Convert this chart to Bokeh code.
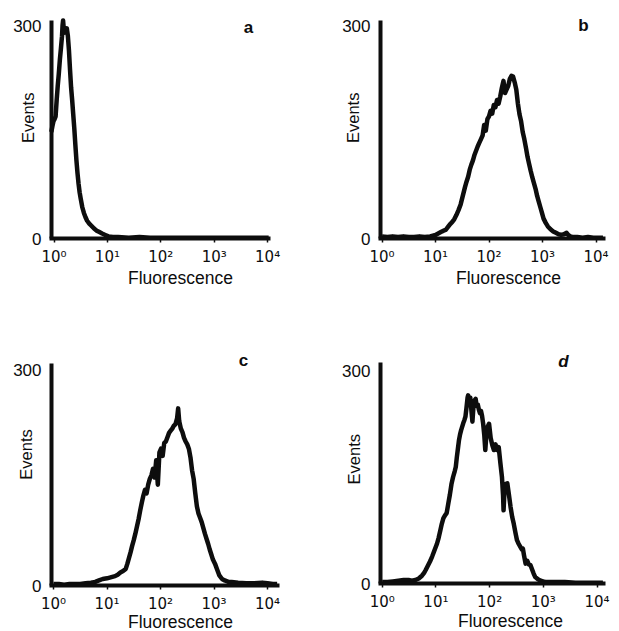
import math
from bokeh.plotting import figure
from bokeh.layouts import row, column
from bokeh.models import Range1d, FixedTicker, CustomJSTickFormatter, Label, ColumnDataSource
from bokeh.embed import file_html
from bokeh.resources import INLINE

FONT = "Liberation Sans"
TICK_FONT = "DejaVu Sans"
INK = "#0d0d0d"

# ---------------- data (log10 fluorescence channel, events) ----------------
x_tick_values = [1, 10, 100, 1000, 10000]
x_tick_labels = ["10⁰", "10¹", "10²", "10³", "10⁴"]
y_tick_values = [0, 300]
panel_letters = ["a", "b", "c", "d"]
x_axis_title = "Fluorescence"
y_axis_title = "Events"

decade_a = [-0.05, -0.03, -0.01, 0.01, 0.03, 0.05, 0.07, 0.09, 0.11, 0.13, 0.15, 0.16, 0.17,
            0.18, 0.20, 0.22, 0.24, 0.26, 0.28, 0.30, 0.32, 0.34, 0.36, 0.38, 0.40, 0.42, 0.44,
            0.46, 0.48, 0.50, 0.53, 0.56, 0.59, 0.62, 0.66, 0.70, 0.75, 0.80, 0.85, 0.90, 0.96,
            1.02, 1.10, 1.20, 1.40, 1.60, 1.80, 2.00, 2.20, 2.50, 2.80, 3.10, 3.40, 3.70, 4.02]
events_a = [150, 158, 165, 168, 172, 195, 215, 232, 252, 268, 285, 300, 307,
            298, 290, 294, 296, 285, 265, 238, 213, 195, 175, 155, 132, 110, 92,
            77, 65, 56, 44, 36, 30, 25, 21, 18, 14, 11, 9, 7, 5,
            3, 2, 2, 1, 2, 1, 1, 1, 1, 1, 1, 1, 1, 1]

decade_b = [0.00, 0.10, 0.20, 0.30, 0.40, 0.50, 0.60, 0.70, 0.80, 0.90, 0.95, 1.00, 1.05, 1.10,
            1.15, 1.19, 1.23, 1.27, 1.31, 1.35, 1.39, 1.43, 1.47, 1.51, 1.55, 1.58, 1.61, 1.64,
            1.67, 1.70, 1.73, 1.76, 1.79, 1.82, 1.85, 1.88, 1.91, 1.94, 1.97, 2.00, 2.03, 2.06,
            2.09, 2.12, 2.15, 2.18, 2.21, 2.24, 2.27, 2.30, 2.33, 2.36, 2.39, 2.42, 2.45, 2.48,
            2.51, 2.54, 2.57, 2.60, 2.63, 2.66, 2.69, 2.72, 2.75, 2.78, 2.81, 2.84, 2.87, 2.90,
            2.93, 2.96, 2.99, 3.02, 3.06, 3.10, 3.15, 3.20, 3.25, 3.30, 3.35, 3.40, 3.45, 3.48,
            3.52, 3.58, 3.65, 3.75, 3.85, 3.95, 4.05, 4.13]
events_b = [3, 2, 3, 2, 3, 2, 2, 3, 2, 3, 4, 5, 7, 9,
            11, 12, 16, 20, 23, 27, 33, 40, 48, 60, 72, 80, 87, 97,
            104, 110, 118, 124, 130, 135, 140, 145, 160, 152, 168, 172, 180, 176,
            188, 185, 195, 190, 200, 212, 222, 205, 210, 215, 225, 229, 228, 220,
            210, 190, 175, 165, 150, 140, 128, 115, 105, 95, 86, 78, 70, 60,
            52, 44, 36, 28, 22, 17, 13, 10, 8, 6, 5, 6, 8, 5,
            3, 2, 2, 1, 2, 1, 1, 1]

decade_c = [0.00, 0.10, 0.20, 0.30, 0.40, 0.50, 0.60, 0.70, 0.78, 0.85, 0.92, 1.00, 1.05, 1.10,
            1.15, 1.20, 1.25, 1.30, 1.35, 1.38, 1.41, 1.44, 1.47, 1.50, 1.53, 1.56, 1.59, 1.62,
            1.65, 1.68, 1.71, 1.74, 1.77, 1.80, 1.83, 1.86, 1.89, 1.92, 1.95, 1.98, 2.01, 2.04,
            2.07, 2.10, 2.13, 2.16, 2.19, 2.22, 2.25, 2.28, 2.31, 2.33, 2.35, 2.38, 2.41, 2.44,
            2.47, 2.50, 2.53, 2.56, 2.59, 2.62, 2.65, 2.68, 2.71, 2.74, 2.77, 2.80, 2.83, 2.86,
            2.89, 2.92, 2.95, 2.98, 3.02, 3.06, 3.10, 3.15, 3.20, 3.27, 3.33, 3.45, 3.60, 3.75,
            3.90, 4.00, 4.10, 4.18]
events_c = [2, 2, 1, 2, 2, 2, 3, 4, 5, 7, 9, 10, 11, 12,
            13, 15, 18, 20, 23, 30, 38, 46, 55, 63, 72, 82, 92, 104,
            115, 125, 133, 128, 140, 148, 153, 162, 150, 174, 140, 185, 190, 180,
            198, 200, 206, 212, 215, 218, 222, 224, 232, 246, 228, 218, 213, 205,
            200, 196, 190, 178, 160, 148, 128, 110, 100, 94, 88, 80, 72, 65,
            58, 50, 43, 36, 30, 22, 14, 9, 7, 5, 5, 4, 3, 3,
            4, 3, 2, 2]

decade_d = [0.00, 0.10, 0.20, 0.30, 0.40, 0.49, 0.55, 0.62, 0.68, 0.74, 0.78, 0.81, 0.85, 0.89,
            0.93, 0.96, 0.99, 1.02, 1.05, 1.08, 1.11, 1.14, 1.17, 1.20, 1.23, 1.26, 1.29, 1.32,
            1.35, 1.37, 1.39, 1.41, 1.43, 1.45, 1.47, 1.49, 1.51, 1.53, 1.55, 1.57, 1.59, 1.60,
            1.62, 1.64, 1.66, 1.68, 1.70, 1.72, 1.74, 1.76, 1.78, 1.80, 1.82, 1.84, 1.86, 1.88,
            1.90, 1.92, 1.94, 1.96, 1.99, 2.02, 2.05, 2.08, 2.11, 2.14, 2.17, 2.20, 2.23, 2.25,
            2.26, 2.28, 2.30, 2.33, 2.36, 2.39, 2.42, 2.45, 2.48, 2.51, 2.54, 2.57, 2.60, 2.62,
            2.64, 2.67, 2.70, 2.73, 2.76, 2.79, 2.82, 2.85, 2.90, 2.95, 3.04, 3.20, 3.40, 3.60,
            3.80, 4.00, 4.11]
events_d = [2, 2, 3, 4, 5, 5, 4, 5, 7, 11, 15, 19, 25, 31,
            38, 44, 50, 56, 64, 74, 84, 92, 96, 99, 112, 125, 140, 150,
            158, 164, 178, 190, 202, 210, 216, 221, 226, 230, 235, 248, 262, 265,
            258, 262, 245, 228, 250, 258, 260, 250, 252, 245, 240, 243, 236, 225,
            210, 188, 210, 220, 225, 205, 195, 188, 196, 188, 192, 170, 150, 125,
            103, 135, 140, 141, 125, 108, 94, 84, 72, 61, 56, 52, 48, 49,
            40, 28, 32, 27, 26, 20, 14, 9, 6, 4, 2, 2, 2, 1,
            1, 1, 1]

tick_js = """
const e = Math.round(Math.log10(tick));
return (e >= 0 && e < labels.length) ? labels[e] : "";
"""


def make_panel(decades, events, letter, size, xcal, ycal, x_bounds, y_top,
               ev_pos, fl_pos, letter_pos, italic=False):
    """size=(w,h); xcal=(px of 10^0, px per decade); ycal=(px of 0 events, px per event)."""
    w, h = size
    x0, kx = xcal
    y0, ky = ycal
    x_range = Range1d(10 ** ((0 - x0) / kx), 10 ** ((w - x0) / kx))
    y_range = Range1d((y0 - h) / ky, y0 / ky)
    p = figure(width=w, height=h, x_axis_type="log", x_range=x_range, y_range=y_range,
               output_backend="svg", toolbar_location=None,
               min_border_left=0, min_border_right=0, min_border_top=0, min_border_bottom=0)
    p.outline_line_color = None
    p.xgrid.visible = False
    p.ygrid.visible = False
    p.background_fill_color = "white"
    p.border_fill_color = "white"

    src = ColumnDataSource(dict(x=[10 ** d for d in decades], y=events))
    p.line("x", "y", source=src, line_width=4.5, line_color=INK, line_join="round")

    x_lo, x_hi = 10 ** x_bounds[0], 10 ** x_bounds[1]

    xa = p.xaxis[0]
    xa.fixed_location = 0
    xa.bounds = (x_lo, x_hi)
    xa.ticker = FixedTicker(ticks=x_tick_values, minor_ticks=[])
    xa.formatter = CustomJSTickFormatter(args=dict(labels=x_tick_labels), code=tick_js)
    xa.axis_line_width = 4
    xa.axis_line_color = INK
    xa.axis_line_cap = "square"
    xa.major_tick_out = 4
    xa.major_tick_in = 0
    xa.major_tick_line_width = 1.5
    xa.major_tick_line_color = INK
    xa.minor_tick_line_color = None
    xa.major_label_standoff = 5
    xa.major_label_text_font = TICK_FONT
    xa.major_label_text_font_size = "15px"
    xa.major_label_text_color = INK

    ya = p.yaxis[0]
    ya.fixed_location = x_lo
    ya.bounds = (0, y_top)
    ya.ticker = FixedTicker(ticks=y_tick_values, minor_ticks=[])
    ya.axis_line_width = 4
    ya.axis_line_color = INK
    ya.major_tick_out = 0
    ya.major_tick_in = 0
    ya.minor_tick_line_color = None
    ya.major_label_standoff = 10
    ya.major_label_text_font = FONT
    ya.major_label_text_font_size = "17px"
    ya.major_label_text_color = INK

    p.add_layout(Label(x=10 ** ev_pos[0], y=ev_pos[1], text=y_axis_title, angle=math.pi / 2,
                       text_align="center", text_baseline="middle",
                       text_font=FONT, text_font_size="16.5px", text_color=INK))
    p.add_layout(Label(x=10 ** fl_pos[0], y=fl_pos[1], text=x_axis_title,
                       text_align="center", text_baseline="middle",
                       text_font=FONT, text_font_size="17.5px", text_color=INK))
    p.add_layout(Label(x=10 ** letter_pos[0], y=letter_pos[1], text=letter,
                       text_align="center", text_baseline="middle",
                       text_font=FONT, text_font_size="17px",
                       text_font_style="bold italic" if italic else "bold",
                       text_color=INK))
    return p


pa = make_panel(decade_a, events_a, panel_letters[0], (310, 300), (53.5, 53.4), (238, 0.71),
                (-0.047, 4.017), 307, (-0.496, 170), (2.369, -55), (3.642, 297))
pb = make_panel(decade_b, events_b, panel_letters[1], (309, 300), (71.5, 53.5), (238, 0.71),
                (-0.028, 4.14), 307, (-0.533, 170), (2.364, -55), (3.766, 300))
pc = make_panel(decade_c, events_c, panel_letters[2], (310, 331), (53.0, 53.5), (285, 0.72),
                (-0.037, 4.18), 308, (-0.523, 182), (2.374, -51), (3.551, 312))
pd = make_panel(decade_d, events_d, panel_letters[3], (309, 331), (71.7, 53.7), (283, 0.71),
                (-0.032, 4.12), 311, (-0.534, 175), (2.389, -53), (3.376, 313), italic=True)

layout = column(row(pa, pb), row(pc, pd))

with open("out.html", "w") as f:
    f.write(file_html(layout, INLINE, title="Fluorescence histograms"))
